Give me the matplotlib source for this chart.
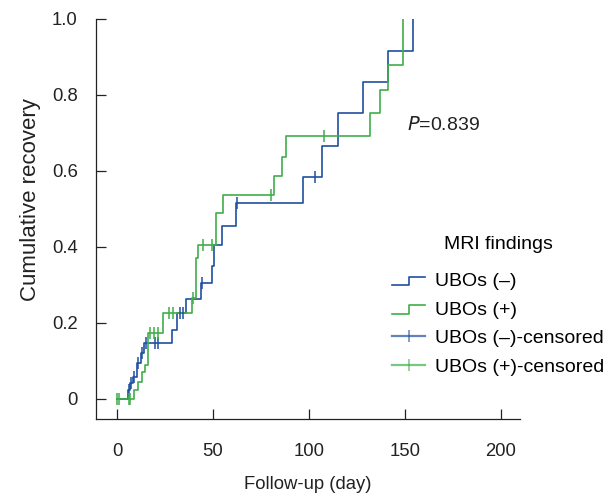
import matplotlib
matplotlib.use('Agg')
import matplotlib.pyplot as plt
from matplotlib.lines import Line2D
from matplotlib.legend_handler import HandlerBase

plt.rcParams['font.family'] = ['Liberation Sans', 'DejaVu Sans']

# UBOs (-) : step times (day) and cumulative recovery after each step
neg_t = [0, 5.5, 7, 8.5, 10.5, 12.5, 14, 28.5, 31, 36, 44, 49.5, 50.5, 54.5, 62, 97, 107, 115, 128, 141, 154]
neg_v = [0, 0.024, 0.042, 0.058, 0.095, 0.12, 0.147, 0.18, 0.226, 0.263, 0.305, 0.35, 0.405, 0.455, 0.515,
         0.584, 0.666, 0.752, 0.834, 0.916, 1.0]
neg_cens_t = [6, 7.5, 9, 11, 13, 15, 20, 21.5, 33, 34.5, 44.5, 62.5, 103]
neg_cens_v = [0.024, 0.042, 0.058, 0.095, 0.12, 0.147, 0.147, 0.147, 0.226, 0.226, 0.305, 0.515, 0.584]

# UBOs (+)
pos_t = [0, 9, 11, 13, 14.5, 16, 24, 39, 41, 42, 51.5, 55, 82, 86, 88, 132, 137, 141, 149]
pos_v = [0, 0.024, 0.045, 0.07, 0.09, 0.174, 0.226, 0.266, 0.37, 0.405, 0.49, 0.537, 0.587, 0.637, 0.692,
         0.752, 0.813, 0.879, 1.0]
pos_cens_t = [0, 1, 6, 7, 17.3, 19.4, 21.5, 27.2, 29.3, 39.5, 45, 49.7, 80, 108]
pos_cens_v = [0, 0, 0, 0, 0.174, 0.174, 0.174, 0.226, 0.226, 0.266, 0.405, 0.405, 0.537, 0.692]

blue = '#1f4f9f'
green = '#3fae49'


class StepHandler(HandlerBase):
    # step-shaped legend key
    def create_artists(self, legend, orig_handle, xdescent, ydescent, width, height, fontsize, trans):
        x0 = -xdescent
        xm = x0 + 0.5 * width
        y0 = -ydescent + 0.05 * height
        y1 = -ydescent + 0.7 * height
        ln = Line2D([x0, xm, xm, x0 + width], [y0, y0, y1, y1],
                    color=orig_handle.get_color(), lw=orig_handle.get_linewidth())
        ln.set_transform(trans)
        return [ln]


fig = plt.figure(figsize=(6.11, 4.97), dpi=100)
ax = fig.add_axes([0.157, 0.157, 0.694, 0.805])

l1, = ax.step(neg_t, neg_v, where='post', color=blue, lw=1.2)
l2, = ax.step(pos_t, pos_v, where='post', color=green, lw=1.2)
c1, = ax.plot(neg_cens_t, neg_cens_v, ls='none', marker='|', ms=8, mew=1.1, color=blue)
c2, = ax.plot(pos_cens_t, pos_cens_v, ls='none', marker='|', ms=8, mew=1.1, color=green)

ax.set_xlim(-11, 210)
ax.set_ylim(-0.053, 1.0)
ax.set_xticks([0, 50, 100, 150, 200])
ax.set_yticks([0, 0.2, 0.4, 0.6, 0.8, 1.0])
ax.set_yticklabels(['0', '0.2', '0.4', '0.6', '0.8', '1.0'])
ax.tick_params(axis='both', direction='in', length=7, width=0.9, labelsize=13.3, colors='#222222')
ax.tick_params(axis='y', pad=13)
ax.tick_params(axis='x', pad=17)
for s in ['top', 'right']:
    ax.spines[s].set_visible(False)
for s in ['left', 'bottom']:
    ax.spines[s].set_linewidth(0.9)
    ax.spines[s].set_color('#222222')

ax.set_xlabel('Follow-up (day)', fontsize=13.3, labelpad=12, color='#222222')
ax.set_ylabel('Cumulative recovery', fontsize=16, labelpad=8, color='#222222', y=0.5475)

ax.text(151, 0.72, '$P$=0.839', fontsize=14, va='center', ha='left', color='#222222')

h3 = Line2D([], [], color=blue, lw=1.6, alpha=0.7, marker='|', ms=8, mew=1.1, markeredgecolor=blue)
h4 = Line2D([], [], color=green, lw=1.6, alpha=0.7, marker='|', ms=8, mew=1.1, markeredgecolor=green)
leg = ax.legend([l1, l2, h3, h4],
                ['UBOs (\u2013)', 'UBOs (+)', 'UBOs (\u2013)-censored', 'UBOs (+)-censored'],
                handler_map={l1: StepHandler(), l2: StepHandler()},
                title='MRI findings', frameon=False, fontsize=14, title_fontsize=14,
                loc='upper left', bbox_to_anchor=(392 / 611, 1 - 236 / 497),
                bbox_transform=fig.transFigure, borderaxespad=0, borderpad=0,
                handlelength=1.7, handletextpad=0.5, labelspacing=0.56, numpoints=1)
leg._legend_box.sep = 14
leg._legend_box.align = 'center'

fig.savefig('out.png', dpi=100)
